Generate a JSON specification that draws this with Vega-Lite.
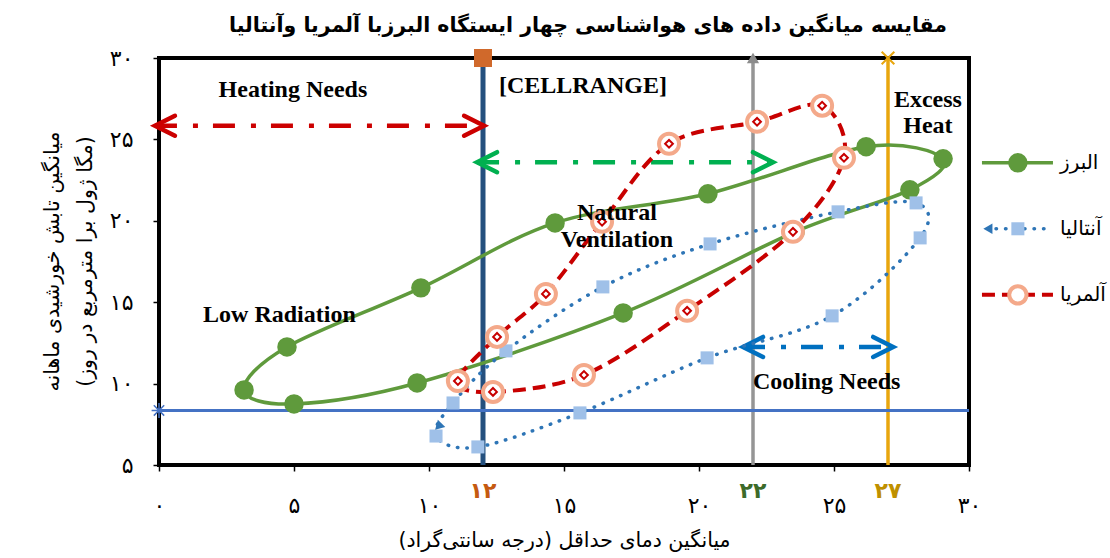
{
"$schema": "https://vega.github.io/schema/vega-lite/v6.json",
"width": 810,
"height": 407,
"autosize": {"type": "none"},
"padding": {"left": 159, "top": 58, "right": 141, "bottom": 93},
"background": "#ffffff",
"title": {"text": "مقایسه میانگین داده های هواشناسی چهار ایستگاه البرزبا آلمریا وآنتالیا", "font": "DejaVu Sans", "fontSize": 20.5, "fontWeight": "bold", "anchor": "middle", "dx": 24, "offset": 11, "color": "#000000"},
"config": {
  "view": {"stroke": "#000000", "strokeWidth": 4},
  "axis": {"grid": false, "domain": false, "ticks": true, "tickColor": "#000000", "tickWidth": 1.5, "tickSize": 6, "labelColor": "#000000", "titleColor": "#000000", "labelFont": "DejaVu Sans", "titleFont": "DejaVu Sans", "titleFontWeight": "normal", "labelFontSize": 22, "titleFontSize": 20.5, "labelFlush": false, "labelOverlap": false}
},
"datasets": {
  "series": [
    {"s": "البرز", "m": 1, "x": 3.15, "y": 9.61},
    {"s": "البرز", "m": 2, "x": 4.74, "y": 12.25},
    {"s": "البرز", "m": 3, "x": 9.7, "y": 15.88},
    {"s": "البرز", "m": 4, "x": 14.67, "y": 19.87},
    {"s": "البرز", "m": 5, "x": 20.33, "y": 21.66},
    {"s": "البرز", "m": 6, "x": 26.19, "y": 24.55},
    {"s": "البرز", "m": 7, "x": 29.04, "y": 23.81},
    {"s": "البرز", "m": 8, "x": 27.81, "y": 21.9},
    {"s": "البرز", "m": 9, "x": 23.56, "y": 19.32},
    {"s": "البرز", "m": 10, "x": 17.19, "y": 14.34},
    {"s": "البرز", "m": 11, "x": 9.56, "y": 10.04},
    {"s": "البرز", "m": 12, "x": 5.0, "y": 8.75},
    {"s": "آنتالیا", "m": 1, "x": 10.26, "y": 6.78},
    {"s": "آنتالیا", "m": 2, "x": 11.81, "y": 6.11},
    {"s": "آنتالیا", "m": 3, "x": 15.59, "y": 8.2},
    {"s": "آنتالیا", "m": 4, "x": 20.3, "y": 11.58},
    {"s": "آنتالیا", "m": 5, "x": 24.93, "y": 14.16},
    {"s": "آنتالیا", "m": 6, "x": 28.19, "y": 18.95},
    {"s": "آنتالیا", "m": 7, "x": 28.04, "y": 21.1},
    {"s": "آنتالیا", "m": 8, "x": 25.15, "y": 20.55},
    {"s": "آنتالیا", "m": 9, "x": 20.41, "y": 18.58},
    {"s": "آنتالیا", "m": 10, "x": 16.44, "y": 15.94},
    {"s": "آنتالیا", "m": 11, "x": 12.85, "y": 12.01},
    {"s": "آنتالیا", "m": 12, "x": 10.89, "y": 8.81},
    {"s": "آلمریا", "m": 1, "x": 11.07, "y": 10.16},
    {"s": "آلمریا", "m": 2, "x": 12.37, "y": 9.49},
    {"s": "آلمریا", "m": 3, "x": 15.74, "y": 10.53},
    {"s": "آلمریا", "m": 4, "x": 19.56, "y": 14.47},
    {"s": "آلمریا", "m": 5, "x": 23.48, "y": 19.32},
    {"s": "آلمریا", "m": 6, "x": 25.37, "y": 23.87},
    {"s": "آلمریا", "m": 7, "x": 24.56, "y": 27.07},
    {"s": "آلمریا", "m": 8, "x": 22.15, "y": 26.08},
    {"s": "آلمریا", "m": 9, "x": 18.89, "y": 24.73},
    {"s": "آلمریا", "m": 10, "x": 16.41, "y": 19.94},
    {"s": "آلمریا", "m": 11, "x": 14.33, "y": 15.51},
    {"s": "آلمریا", "m": 12, "x": 12.52, "y": 12.87}
  ],
  "refs": [
    {"name": "heat", "x": 12, "y": 30},
    {"name": "vent", "x": 22, "y": 30},
    {"name": "cool", "x": 27, "y": 30},
    {"name": "rad", "x": 0, "y": 8.35}
  ],
  "arrows": [
    {"name": "heat", "x": -0.15, "x2": 12.04, "y": 25.84},
    {"name": "vent", "x": 11.78, "x2": 22.74, "y": 23.6},
    {"name": "cool", "x": 21.63, "x2": 27.19, "y": 12.25}
  ],
  "notes": [
    {"t": "Heating Needs", "x": 4.96, "y": 27.62},
    {"t": "[CELLRANGE]", "x": 15.7, "y": 27.86},
    {"t": "Excess", "x": 28.48, "y": 27.0},
    {"t": "Heat", "x": 28.48, "y": 25.4},
    {"t": "Natural", "x": 16.96, "y": 20.06},
    {"t": "Ventilation", "x": 16.96, "y": 18.4},
    {"t": "Low Radiation", "x": 4.46, "y": 13.79},
    {"t": "Cooling Needs", "x": 24.73, "y": 9.67}
  ],
  "xmarks": [
    {"t": "۱۲", "x": 12, "y": 3.0},
    {"t": "۲۲", "x": 22, "y": 3.0},
    {"t": "۲۷", "x": 27, "y": 3.0}
  ],
  "extra": [
    {"name": "antalyaStart", "x": 10.44, "y": 7.4},
    {"name": "legendTri", "x": 30.7, "y": 19.51}
  ],
  "legend": [
    {"s": "البرز", "x": 30.48, "y": 23.56},
    {"s": "البرز", "x": 33.11, "y": 23.56},
    {"s": "آنتالیا", "x": 31.0, "y": 19.51},
    {"s": "آنتالیا", "x": 33.11, "y": 19.51},
    {"s": "آلمریا", "x": 30.48, "y": 15.45},
    {"s": "آلمریا", "x": 33.11, "y": 15.45}
  ],
  "legendkeys": [
    {"s": "البرز", "x": 31.81, "lx": 33.37, "y": 23.56},
    {"s": "آنتالیا", "x": 31.81, "lx": 33.37, "y": 19.51},
    {"s": "آلمریا", "x": 31.81, "lx": 33.37, "y": 15.45}
  ]
},
"layer": [
  {"data": {"name": "refs"}, "transform": [{"filter": "datum.name == 'heat'"}],
   "mark": {"type": "rule", "color": "#24507e", "strokeWidth": 5},
   "encoding": {"x": {"field": "x", "type": "quantitative", "scale": {"domain": [0, 30], "nice": false, "zero": false}}}},
  {"data": {"name": "refs"}, "transform": [{"filter": "datum.name == 'vent'"}],
   "mark": {"type": "rule", "color": "#959595", "strokeWidth": 3.5},
   "encoding": {"x": {"field": "x", "type": "quantitative", "scale": {"domain": [0, 30], "nice": false, "zero": false}}}},
  {"data": {"name": "refs"}, "transform": [{"filter": "datum.name == 'cool'"}],
   "mark": {"type": "rule", "color": "#e8a60e", "strokeWidth": 3.5},
   "encoding": {"x": {"field": "x", "type": "quantitative", "scale": {"domain": [0, 30], "nice": false, "zero": false}}}},
  {"data": {"name": "refs"}, "transform": [{"filter": "datum.name == 'rad'"}],
   "mark": {"type": "rule", "color": "#4472c4", "strokeWidth": 3},
   "encoding": {"y": {"field": "y", "type": "quantitative", "scale": {"domain": [5, 30], "nice": false, "zero": false}}}},
  {"data": {"name": "arrows"},
   "mark": {"type": "rule", "strokeWidth": 4.5, "strokeDash": [22, 16, 5, 15]},
   "encoding": {
     "x": {"field": "x", "type": "quantitative", "scale": {"domain": [0, 30], "nice": false, "zero": false}},
     "x2": {"field": "x2"},
     "y": {"field": "y", "type": "quantitative", "scale": {"domain": [5, 30], "nice": false, "zero": false}},
     "color": {"field": "name", "type": "nominal", "scale": {"domain": ["heat", "vent", "cool"], "range": ["#cc0000", "#00b050", "#0070c0"]}, "legend": null}}},
  {"data": {"name": "arrows"},
   "mark": {"type": "point", "shape": "M2,-1L0,0L2,1", "filled": false, "size": 400, "strokeWidth": 4.5, "strokeCap": "round", "strokeJoin": "miter", "opacity": 1},
   "encoding": {
     "x": {"field": "x", "type": "quantitative", "scale": {"domain": [0, 30], "nice": false, "zero": false}},
     "y": {"field": "y", "type": "quantitative", "scale": {"domain": [5, 30], "nice": false, "zero": false}},
     "color": {"field": "name", "type": "nominal", "scale": {"domain": ["heat", "vent", "cool"], "range": ["#cc0000", "#00b050", "#0070c0"]}, "legend": null}}},
  {"data": {"name": "arrows"},
   "mark": {"type": "point", "shape": "M-2,-1L0,0L-2,1", "filled": false, "size": 400, "strokeWidth": 4.5, "strokeCap": "round", "strokeJoin": "miter", "opacity": 1},
   "encoding": {
     "x": {"field": "x2", "type": "quantitative", "scale": {"domain": [0, 30], "nice": false, "zero": false}},
     "y": {"field": "y", "type": "quantitative", "scale": {"domain": [5, 30], "nice": false, "zero": false}},
     "color": {"field": "name", "type": "nominal", "scale": {"domain": ["heat", "vent", "cool"], "range": ["#cc0000", "#00b050", "#0070c0"]}, "legend": null}}},
  {"data": {"name": "series"}, "transform": [{"filter": "datum.s == 'البرز'"}],
   "mark": {"type": "line", "interpolate": "cardinal-closed", "color": "#5f9a3c", "strokeWidth": 3.5},
   "encoding": {
     "x": {"field": "x", "type": "quantitative", "scale": {"domain": [0, 30], "nice": false, "zero": false},
       "axis": {"values": [0, 5, 10, 15, 20, 25, 30], "labelExpr": "datum.value == 0 ? '۰' : datum.value == 5 ? '۵' : datum.value == 10 ? '۱۰' : datum.value == 15 ? '۱۵' : datum.value == 20 ? '۲۰' : datum.value == 25 ? '۲۵' : '۳۰'", "labelPadding": 24, "title": "میانگین دمای حداقل (درجه سانتی‌گراد)", "titlePadding": 14}},
     "y": {"field": "y", "type": "quantitative", "scale": {"domain": [5, 30], "nice": false, "zero": false},
       "axis": {"values": [5, 10, 15, 20, 25, 30], "labelExpr": "datum.value == 5 ? '۵' : datum.value == 10 ? '۱۰' : datum.value == 15 ? '۱۵' : datum.value == 20 ? '۲۰' : datum.value == 25 ? '۲۵' : '۳۰'", "labelPadding": 20, "title": ["میانگین تابش خورشیدی ماهانه", "(مگا ژول برا مترمربع در روز)"], "titleAngle": -90, "titleX": -107, "titleY": 203, "titleAlign": "center", "titleBaseline": "middle", "titleLineHeight": 33}},
     "order": {"field": "m", "type": "quantitative"}}},
  {"data": {"name": "series"}, "transform": [{"filter": "datum.s == 'البرز'"}],
   "mark": {"type": "point", "shape": "circle", "filled": true, "color": "#5f9a3c", "size": 380, "opacity": 1},
   "encoding": {
     "x": {"field": "x", "type": "quantitative", "scale": {"domain": [0, 30], "nice": false, "zero": false}},
     "y": {"field": "y", "type": "quantitative", "scale": {"domain": [5, 30], "nice": false, "zero": false}}}},
  {"data": {"name": "series"}, "transform": [{"filter": "datum.s == 'آنتالیا'"}],
   "mark": {"type": "line", "interpolate": "cardinal-closed", "color": "#2e75b6", "strokeWidth": 3.5, "strokeDash": [0.5, 9], "strokeCap": "round"},
   "encoding": {
     "x": {"field": "x", "type": "quantitative", "scale": {"domain": [0, 30], "nice": false, "zero": false}},
     "y": {"field": "y", "type": "quantitative", "scale": {"domain": [5, 30], "nice": false, "zero": false}},
     "order": {"field": "m", "type": "quantitative"}}},
  {"data": {"name": "series"}, "transform": [{"filter": "datum.s == 'آنتالیا'"}],
   "mark": {"type": "point", "shape": "square", "filled": true, "color": "#9fc0e8", "size": 170, "opacity": 1},
   "encoding": {
     "x": {"field": "x", "type": "quantitative", "scale": {"domain": [0, 30], "nice": false, "zero": false}},
     "y": {"field": "y", "type": "quantitative", "scale": {"domain": [5, 30], "nice": false, "zero": false}}}},
  {"data": {"name": "extra"}, "transform": [{"filter": "datum.name == 'antalyaStart'"}],
   "mark": {"type": "point", "shape": "triangle-right", "filled": true, "color": "#2e75b6", "size": 110, "angle": 15, "opacity": 1},
   "encoding": {
     "x": {"field": "x", "type": "quantitative", "scale": {"domain": [0, 30], "nice": false, "zero": false}},
     "y": {"field": "y", "type": "quantitative", "scale": {"domain": [5, 30], "nice": false, "zero": false}}}},
  {"data": {"name": "series"}, "transform": [{"filter": "datum.s == 'آلمریا'"}],
   "mark": {"type": "line", "interpolate": "cardinal-closed", "color": "#c80000", "strokeWidth": 4, "strokeDash": [13, 7]},
   "encoding": {
     "x": {"field": "x", "type": "quantitative", "scale": {"domain": [0, 30], "nice": false, "zero": false}},
     "y": {"field": "y", "type": "quantitative", "scale": {"domain": [5, 30], "nice": false, "zero": false}},
     "order": {"field": "m", "type": "quantitative"}}},
  {"data": {"name": "series"}, "transform": [{"filter": "datum.s == 'آلمریا'"}],
   "mark": {"type": "point", "shape": "circle", "filled": true, "fill": "#ffffff", "stroke": "#f4a98a", "strokeWidth": 4, "size": 400, "opacity": 1},
   "encoding": {
     "x": {"field": "x", "type": "quantitative", "scale": {"domain": [0, 30], "nice": false, "zero": false}},
     "y": {"field": "y", "type": "quantitative", "scale": {"domain": [5, 30], "nice": false, "zero": false}}}},
  {"data": {"name": "series"}, "transform": [{"filter": "datum.s == 'آلمریا'"}],
   "mark": {"type": "point", "shape": "diamond", "filled": true, "fill": "#ffffff", "stroke": "#c80000", "strokeWidth": 2, "size": 60, "opacity": 1},
   "encoding": {
     "x": {"field": "x", "type": "quantitative", "scale": {"domain": [0, 30], "nice": false, "zero": false}},
     "y": {"field": "y", "type": "quantitative", "scale": {"domain": [5, 30], "nice": false, "zero": false}}}},
  {"data": {"name": "refs"}, "transform": [{"filter": "datum.name == 'heat'"}],
   "mark": {"type": "point", "shape": "square", "filled": true, "color": "#d0692b", "size": 324, "opacity": 1},
   "encoding": {
     "x": {"field": "x", "type": "quantitative", "scale": {"domain": [0, 30], "nice": false, "zero": false}},
     "y": {"field": "y", "type": "quantitative", "scale": {"domain": [5, 30], "nice": false, "zero": false}}}},
  {"data": {"name": "refs"}, "transform": [{"filter": "datum.name == 'vent'"}],
   "mark": {"type": "point", "shape": "triangle-up", "filled": true, "color": "#8c8c8c", "size": 150, "opacity": 1},
   "encoding": {
     "x": {"field": "x", "type": "quantitative", "scale": {"domain": [0, 30], "nice": false, "zero": false}},
     "y": {"field": "y", "type": "quantitative", "scale": {"domain": [5, 30], "nice": false, "zero": false}}}},
  {"data": {"name": "refs"}, "transform": [{"filter": "datum.name == 'cool'"}],
   "mark": {"type": "point", "shape": "M-1,-1L1,1M-1,1L1,-1", "filled": false, "color": "#e8a60e", "strokeWidth": 2, "size": 160, "opacity": 1},
   "encoding": {
     "x": {"field": "x", "type": "quantitative", "scale": {"domain": [0, 30], "nice": false, "zero": false}},
     "y": {"field": "y", "type": "quantitative", "scale": {"domain": [5, 30], "nice": false, "zero": false}}}},
  {"data": {"name": "refs"}, "transform": [{"filter": "datum.name == 'rad'"}],
   "mark": {"type": "point", "shape": "M-1,0L1,0M0,-1L0,1M-0.7,-0.7L0.7,0.7M-0.7,0.7L0.7,-0.7", "filled": false, "color": "#4472c4", "strokeWidth": 1.5, "size": 220, "opacity": 1},
   "encoding": {
     "x": {"field": "x", "type": "quantitative", "scale": {"domain": [0, 30], "nice": false, "zero": false}},
     "y": {"field": "y", "type": "quantitative", "scale": {"domain": [5, 30], "nice": false, "zero": false}}}},
  {"data": {"name": "notes"},
   "mark": {"type": "text", "font": "Liberation Serif", "fontWeight": "bold", "fontSize": 24, "align": "center", "baseline": "alphabetic", "color": "#000000"},
   "encoding": {
     "x": {"field": "x", "type": "quantitative", "scale": {"domain": [0, 30], "nice": false, "zero": false}},
     "y": {"field": "y", "type": "quantitative", "scale": {"domain": [5, 30], "nice": false, "zero": false}},
     "text": {"field": "t"}}},
  {"data": {"name": "xmarks"},
   "mark": {"type": "text", "font": "DejaVu Sans", "fontWeight": "bold", "fontSize": 22, "align": "center", "baseline": "alphabetic"},
   "encoding": {
     "x": {"field": "x", "type": "quantitative", "scale": {"domain": [0, 30], "nice": false, "zero": false}},
     "y": {"field": "y", "type": "quantitative", "scale": {"domain": [5, 30], "nice": false, "zero": false}},
     "text": {"field": "t"},
     "fill": {"field": "t", "type": "nominal", "scale": {"domain": ["۱۲", "۲۲", "۲۷"], "range": ["#c55a11", "#3d6b2a", "#bf9000"]}, "legend": null}}},
  {"data": {"name": "legend"}, "transform": [{"filter": "datum.s == 'البرز'"}],
   "mark": {"type": "line", "color": "#5f9a3c", "strokeWidth": 3.5},
   "encoding": {
     "x": {"field": "x", "type": "quantitative", "scale": {"domain": [0, 30], "nice": false, "zero": false}},
     "y": {"field": "y", "type": "quantitative", "scale": {"domain": [5, 30], "nice": false, "zero": false}}}},
  {"data": {"name": "legend"}, "transform": [{"filter": "datum.s == 'آنتالیا'"}],
   "mark": {"type": "line", "color": "#2e75b6", "strokeWidth": 3.5, "strokeDash": [0.5, 9], "strokeCap": "round"},
   "encoding": {
     "x": {"field": "x", "type": "quantitative", "scale": {"domain": [0, 30], "nice": false, "zero": false}},
     "y": {"field": "y", "type": "quantitative", "scale": {"domain": [5, 30], "nice": false, "zero": false}}}},
  {"data": {"name": "legend"}, "transform": [{"filter": "datum.s == 'آلمریا'"}],
   "mark": {"type": "line", "color": "#c80000", "strokeWidth": 4, "strokeDash": [13, 7]},
   "encoding": {
     "x": {"field": "x", "type": "quantitative", "scale": {"domain": [0, 30], "nice": false, "zero": false}},
     "y": {"field": "y", "type": "quantitative", "scale": {"domain": [5, 30], "nice": false, "zero": false}}}},
  {"data": {"name": "legendkeys"}, "transform": [{"filter": "datum.s == 'البرز'"}],
   "mark": {"type": "point", "shape": "circle", "filled": true, "color": "#5f9a3c", "size": 380, "opacity": 1},
   "encoding": {
     "x": {"field": "x", "type": "quantitative", "scale": {"domain": [0, 30], "nice": false, "zero": false}},
     "y": {"field": "y", "type": "quantitative", "scale": {"domain": [5, 30], "nice": false, "zero": false}}}},
  {"data": {"name": "legendkeys"}, "transform": [{"filter": "datum.s == 'آنتالیا'"}],
   "mark": {"type": "point", "shape": "square", "filled": true, "color": "#9fc0e8", "size": 170, "opacity": 1},
   "encoding": {
     "x": {"field": "x", "type": "quantitative", "scale": {"domain": [0, 30], "nice": false, "zero": false}},
     "y": {"field": "y", "type": "quantitative", "scale": {"domain": [5, 30], "nice": false, "zero": false}}}},
  {"data": {"name": "legendkeys"}, "transform": [{"filter": "datum.s == 'آلمریا'"}],
   "mark": {"type": "point", "shape": "circle", "filled": true, "fill": "#ffffff", "stroke": "#f4a98a", "strokeWidth": 4, "size": 300, "opacity": 1},
   "encoding": {
     "x": {"field": "x", "type": "quantitative", "scale": {"domain": [0, 30], "nice": false, "zero": false}},
     "y": {"field": "y", "type": "quantitative", "scale": {"domain": [5, 30], "nice": false, "zero": false}}}},
  {"data": {"name": "extra"}, "transform": [{"filter": "datum.name == 'legendTri'"}],
   "mark": {"type": "point", "shape": "triangle-left", "filled": true, "color": "#2e75b6", "size": 110, "opacity": 1},
   "encoding": {
     "x": {"field": "x", "type": "quantitative", "scale": {"domain": [0, 30], "nice": false, "zero": false}},
     "y": {"field": "y", "type": "quantitative", "scale": {"domain": [5, 30], "nice": false, "zero": false}}}},
  {"data": {"name": "legendkeys"},
   "mark": {"type": "text", "font": "DejaVu Sans", "fontSize": 20, "align": "left", "baseline": "middle", "color": "#000000"},
   "encoding": {
     "x": {"field": "lx", "type": "quantitative", "scale": {"domain": [0, 30], "nice": false, "zero": false}},
     "y": {"field": "y", "type": "quantitative", "scale": {"domain": [5, 30], "nice": false, "zero": false}},
     "text": {"field": "s"}}}
]
}
